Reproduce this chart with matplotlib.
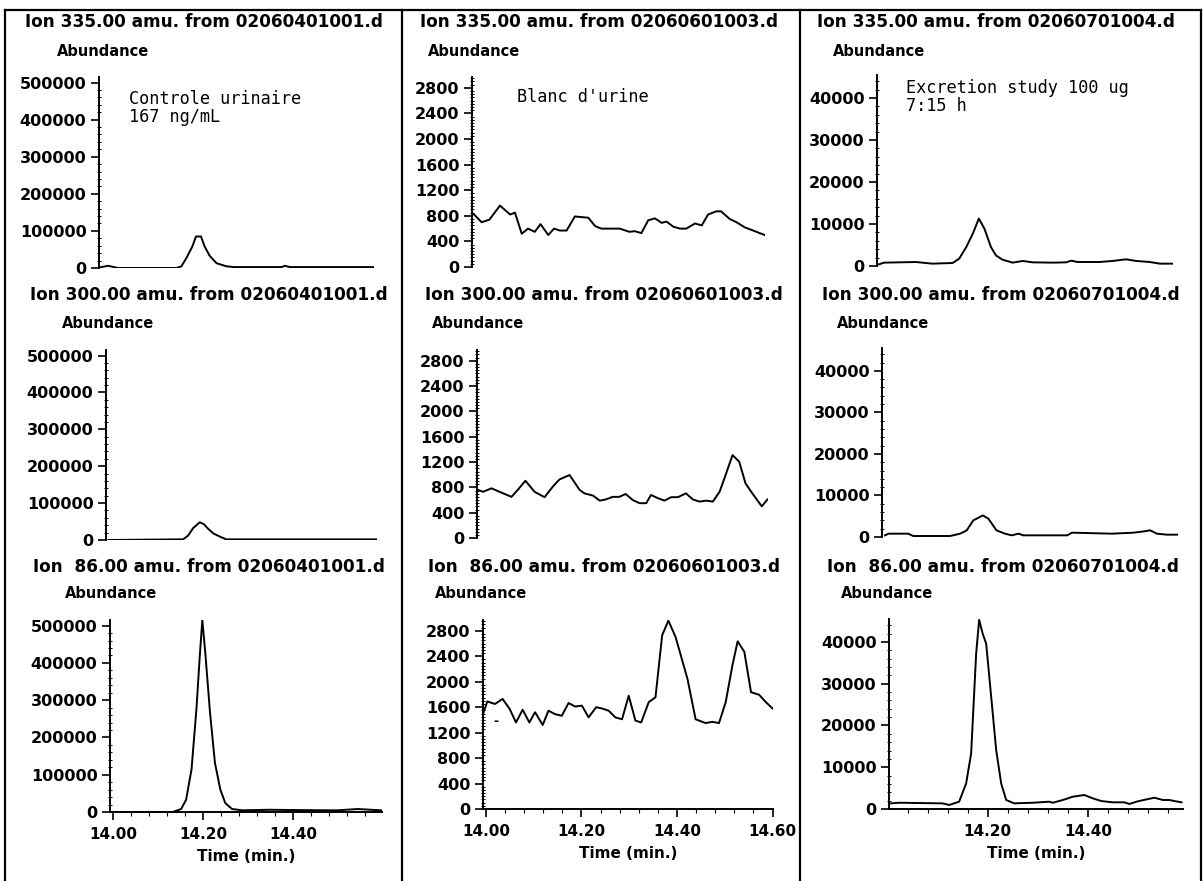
import matplotlib
matplotlib.use("Agg")
import matplotlib.pyplot as plt
from matplotlib.lines import Line2D
from matplotlib.ticker import MultipleLocator, FormatStrFormatter

W, H = 1203, 881

# ---- data (time in min, abundance) ----
# column 1 : 02060401001.d (Controle urinaire)
t_c335 = [13.995, 14.013, 14.028, 14.035, 14.163, 14.174, 14.185, 14.198, 14.206, 14.217, 14.225,
          14.236, 14.251, 14.273, 14.290, 14.394, 14.401, 14.412, 14.595]
y_c335 = [1800, 6000, 1800, 0, 0, 4500, 27000, 58000, 85000, 85000, 58000,
          33000, 13000, 4500, 2500, 2500, 6000, 2500, 2500]
t_c300 = [13.998, 14.165, 14.176, 14.187, 14.202, 14.211, 14.221, 14.232, 14.247, 14.261, 14.595]
y_c300 = [0, 1800, 12000, 32000, 48000, 43000, 30000, 18000, 9000, 1800, 1800]
t_c86 = [13.996, 14.132, 14.151, 14.162, 14.174, 14.185, 14.192, 14.198, 14.205, 14.215, 14.226,
         14.238, 14.249, 14.264, 14.287, 14.347, 14.423, 14.498, 14.543, 14.595]
y_c86 = [0, 0, 8000, 33000, 114000, 277000, 412000, 515000, 421000, 268000, 132000,
         60000, 24000, 8000, 4500, 6000, 5000, 4500, 8000, 4500]

# column 2 : 02060601003.d (Blanc d'urine)
t_b335 = [13.997, 14.014, 14.030, 14.052, 14.073, 14.083, 14.097, 14.110, 14.124, 14.136, 14.152,
          14.164, 14.176, 14.190, 14.207, 14.235, 14.249, 14.262, 14.300, 14.320, 14.331, 14.345,
          14.359, 14.373, 14.387, 14.397, 14.411, 14.425, 14.438, 14.456, 14.470, 14.483, 14.500,
          14.510, 14.528, 14.542, 14.559, 14.573, 14.590, 14.600]
y_b335 = [830, 700, 740, 960, 820, 850, 520, 600, 550, 670, 500,
          600, 570, 570, 790, 770, 640, 600, 600, 550, 560, 530,
          730, 760, 690, 710, 630, 600, 600, 680, 650, 820, 870,
          870, 750, 700, 620, 580, 530, 500]
t_b300 = [13.996, 14.007, 14.024, 14.041, 14.066, 14.079, 14.095, 14.114, 14.135, 14.152, 14.166,
          14.187, 14.208, 14.218, 14.236, 14.250, 14.263, 14.277, 14.291, 14.304, 14.319, 14.333,
          14.347, 14.357, 14.371, 14.385, 14.399, 14.413, 14.430, 14.444, 14.458, 14.472, 14.486,
          14.500, 14.510, 14.527, 14.541, 14.554, 14.566, 14.588, 14.600]
y_b300 = [760, 730, 785, 730, 650, 760, 905, 730, 645, 810, 925,
          995, 760, 705, 670, 590, 610, 650, 650, 695, 600, 550,
          550, 680, 630, 590, 645, 645, 705, 610, 575, 590, 575,
          730, 940, 1310, 1205, 865, 730, 500, 610]
t_b86 = [13.994, 14.003, 14.019, 14.035, 14.050, 14.063, 14.077, 14.091, 14.103, 14.119, 14.131,
         14.145, 14.159, 14.173, 14.187, 14.201, 14.215, 14.231, 14.243, 14.257, 14.271, 14.285,
         14.299, 14.313, 14.325, 14.341, 14.355, 14.369, 14.382, 14.397, 14.408, 14.422, 14.439,
         14.460, 14.474, 14.488, 14.502, 14.516, 14.527, 14.541, 14.555, 14.572, 14.586, 14.600]
y_b86 = [1490, 1690, 1650, 1730, 1570, 1360, 1560, 1360, 1520, 1320, 1545,
         1490, 1465, 1665, 1610, 1625, 1440, 1600, 1580, 1545, 1440, 1410,
         1780, 1390, 1360, 1680, 1755, 2730, 2960, 2705, 2415, 2045, 1410,
         1350, 1370, 1350, 1680, 2255, 2635, 2470, 1835, 1795, 1680, 1580]

# column 3 : 02060701004.d (Excretion study)
t_e335 = [14.007, 14.017, 14.080, 14.113, 14.153, 14.166, 14.180, 14.193, 14.205, 14.216, 14.229,
          14.239, 14.252, 14.272, 14.292, 14.312, 14.352, 14.378, 14.388, 14.401, 14.444, 14.470,
          14.497, 14.517, 14.544, 14.564, 14.590]
y_e335 = [400, 800, 950, 560, 720, 1750, 4500, 7700, 11300, 8900, 4500,
          2500, 1500, 800, 1200, 870, 800, 870, 1270, 950, 950, 1200,
          1590, 1200, 950, 560, 560]
t_e300 = [14.009, 14.016, 14.055, 14.065, 14.138, 14.158, 14.171, 14.184, 14.203, 14.214, 14.230,
          14.247, 14.260, 14.274, 14.283, 14.370, 14.380, 14.459, 14.502, 14.522, 14.535, 14.548,
          14.568, 14.591]
y_e300 = [400, 800, 800, 240, 240, 800, 1600, 4000, 5200, 4400, 1600,
          800, 400, 800, 400, 400, 1040, 800, 1040, 1350, 1600, 800,
          560, 560]
t_e86 = [14.007, 14.023, 14.110, 14.123, 14.143, 14.157, 14.167, 14.177, 14.183, 14.190, 14.197,
         14.207, 14.217, 14.227, 14.237, 14.253, 14.290, 14.323, 14.330, 14.350, 14.370, 14.393,
         14.410, 14.427, 14.450, 14.473, 14.483, 14.497, 14.517, 14.533, 14.550, 14.563, 14.573,
         14.587]
y_e86 = [1350, 1500, 1350, 960, 1750, 6100, 13300, 37200, 45300, 42000, 39600,
         26900, 14100, 6100, 2150, 1350, 1500, 1750, 1500, 2150, 2950, 3350,
         2550, 1900, 1600, 1600, 1200, 1750, 2300, 2700, 2150, 2150, 1900,
         1600]

files = ["02060401001.d", "02060601003.d", "02060701004.d"]
ions = ["335.00", "300.00", " 86.00"]

col_ylim = [515000, 2970, 45500]
col_yticks = [list(range(0, 500001, 100000)), list(range(0, 2801, 400)), list(range(0, 40001, 10000))]
col_yminor = [20000, 50, 2000]
col_xlim = [(13.993, 14.597), (13.994, 14.601), (14.003, 14.59)]
col_xticks = [[14.0, 14.2, 14.4], [14.0, 14.2, 14.4, 14.6], [14.2, 14.4]]

series = [[(t_c335, y_c335), (t_b335, y_b335), (t_e335, y_e335)],
          [(t_c300, y_c300), (t_b300, y_b300), (t_e300, y_e300)],
          [(t_c86, y_c86), (t_b86, y_b86), (t_e86, y_e86)]]

# axes boxes in pixels: left, top, right, bottom(zero line)
boxes = [[(99, 77, 374, 268), (472, 77, 765, 267), (877, 75, 1173, 266)],
         [(106, 350, 377, 540), (477, 350, 768, 538), (882, 348, 1178, 537)],
         [(110, 620, 382, 812), (483, 620, 773, 809), (889, 619, 1183, 809)]]
title_pos = [[(25, 22), (420, 22), (817, 22)],
             [(30, 295), (425, 295), (822, 295)],
             [(33, 567), (428, 567), (827, 567)]]
abund_pos = [[(57, 52), (428, 52), (833, 52)],
             [(62, 323), (432, 323), (837, 323)],
             [(65, 593), (435, 593), (841, 593)]]

fig = plt.figure(figsize=(W / 100, H / 100), dpi=100)
bold = dict(fontfamily="DejaVu Sans", fontweight="bold", color="black")


def px_axes(l, t, r, b):
    return fig.add_axes([l / W, (H - b) / H, (r - l) / W, (b - t) / H])


for i in range(3):
    for j in range(3):
        l, t, r, b = boxes[i][j]
        ax = px_axes(l, t, r, b)
        ts, ys = series[i][j]
        ax.plot(ts, ys, color="black", lw=1.4)
        ax.set_xlim(*col_xlim[j])
        ax.set_ylim(0, col_ylim[j])
        ax.set_facecolor("none")
        for s in ["top", "right"]:
            ax.spines[s].set_visible(False)
        ax.spines["left"].set_linewidth(1.4)
        ax.set_yticks(col_yticks[j])
        ax.yaxis.set_minor_locator(MultipleLocator(col_yminor[j]))
        ax.yaxis.set_major_formatter(FormatStrFormatter("%d"))
        ax.tick_params(axis="y", which="major", direction="out", length=6, width=1.2, pad=3,
                       labelsize=11.5)
        ax.tick_params(axis="y", which="minor", direction="inout", length=2.5, width=0.7)
        for lab in ax.get_yticklabels():
            lab.set_fontweight("bold")
        if i < 2:
            ax.spines["bottom"].set_visible(False)
            ax.set_xticks([])
        else:
            ax.spines["bottom"].set_linewidth(1.4)
            ax.set_xticks(col_xticks[j])
            ax.xaxis.set_minor_locator(MultipleLocator(0.04))
            ax.xaxis.set_major_formatter(FormatStrFormatter("%.2f"))
            ax.tick_params(axis="x", which="major", direction="out", length=6, width=1.2, pad=5,
                           labelsize=11)
            ax.tick_params(axis="x", which="minor", direction="out", length=3, width=0.8)
            for lab in ax.get_xticklabels():
                lab.set_fontweight("bold")
            ax.set_xlabel("Time (min.)", fontsize=11, fontweight="bold", labelpad=5)

        tx, ty = title_pos[i][j]
        fig.text(tx / W, 1 - ty / H, "Ion %s amu. from %s" % (ions[i], files[j]),
                 ha="left", va="center", fontsize=12.2, **bold)
        axx, axy = abund_pos[i][j]
        fig.text(axx / W, 1 - axy / H, "Abundance", ha="left", va="center", fontsize=10.5, **bold)

        if i == 2 and j == 1:
            ax.text(14.022, 1380, "-", ha="center", va="center", fontsize=9, fontweight="bold")

# sample annotations
mono = dict(fontfamily="DejaVu Sans Mono", color="black", ha="left", va="center", fontsize=12.2)
fig.text(129 / W, 1 - 99 / H, "Controle urinaire", **mono)
fig.text(129 / W, 1 - 117 / H, "167 ng/mL", **mono)
fig.text(517 / W, 1 - 97 / H, "Blanc d'urine", **mono)
fig.text(906 / W, 1 - 88 / H, "Excretion study 100 ug", **mono)
fig.text(906 / W, 1 - 106 / H, "7:15 h", **mono)

# page frame lines
frame_kw = dict(color="black", lw=1.6, transform=fig.transFigure)
fig.add_artist(Line2D([5 / W, 1201 / W], [1 - 10 / H, 1 - 10 / H], **frame_kw))
for xv in [5, 402, 800, 1201]:
    fig.add_artist(Line2D([xv / W, xv / W], [0, 1 - 10 / H], **frame_kw))

fig.savefig("out.png", dpi=100, facecolor="white")
